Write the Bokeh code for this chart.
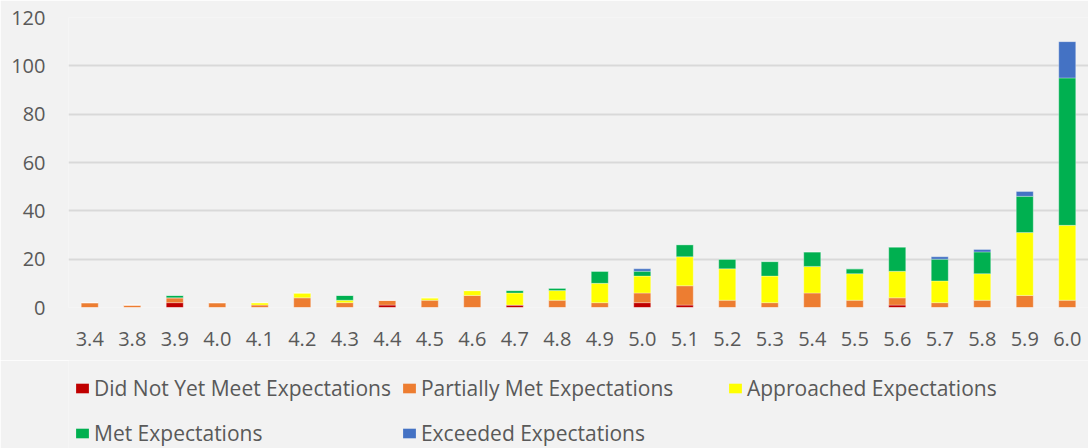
from bokeh.plotting import figure
from bokeh.layouts import column
from bokeh.models import (ColumnDataSource, FactorRange, Range1d, FixedTicker,
                          Legend, LegendItem)
from bokeh.embed import file_html
from bokeh.resources import INLINE

# ---- data ----
scores = ["3.4", "3.8", "3.9", "4.0", "4.1", "4.2", "4.3", "4.4", "4.5", "4.6",
          "4.7", "4.8", "4.9", "5.0", "5.1", "5.2", "5.3", "5.4", "5.5", "5.6",
          "5.7", "5.8", "5.9", "6.0"]
did_not_yet = [0, 0, 2, 0, 0, 0, 0, 1, 0, 0, 1, 0, 0, 2, 1, 0, 0, 0, 0, 1, 0, 0, 0, 0]
partially   = [2, 1, 2, 2, 1, 4, 2, 2, 3, 5, 0, 3, 2, 4, 8, 3, 2, 6, 3, 3, 2, 3, 5, 3]
approached  = [0, 0, 0, 0, 1, 2, 1, 0, 1, 2, 5, 4, 8, 7, 12, 13, 11, 11, 11, 11, 9, 11, 26, 31]
met         = [0, 0, 1, 0, 0, 0, 2, 0, 0, 0, 1, 1, 5, 2, 5, 4, 6, 6, 2, 10, 9, 9, 15, 61]
exceeded    = [0, 0, 0, 0, 0, 0, 0, 0, 0, 0, 0, 0, 0, 1, 0, 0, 0, 0, 0, 0, 1, 1, 2, 15]

series_names = ["Did Not Yet Meet Expectations", "Partially Met Expectations",
                "Approached Expectations", "Met Expectations", "Exceeded Expectations"]
series_keys = ["did_not_yet", "partially", "approached", "met", "exceeded"]
colors = ["#C00000", "#ED7D31", "#FFFF00", "#00B050", "#4472C4"]
y_ticks = [0, 20, 40, 60, 80, 100, 120]

source = ColumnDataSource(dict(scores=scores, did_not_yet=did_not_yet, partially=partially,
                               approached=approached, met=met, exceeded=exceeded))

BG = "#F2F2F2"
TXT = "#595959"
FONT = "Open Sans"

# ---- chart ----
p = figure(width=1088, height=360, output_backend="svg", toolbar_location=None,
           x_range=FactorRange(factors=scores, range_padding=0),
           y_range=Range1d(0, 120),
           min_border_left=68, min_border_right=0, min_border_top=17, min_border_bottom=53)

p.background_fill_color = BG
p.border_fill_color = BG
p.outline_line_color = None

p.vbar_stack(series_keys, x="scores", width=0.4, color=colors, source=source,
             line_color="white", line_alpha=0.5, line_width=0.6)

p.xgrid.grid_line_color = None
p.ygrid.grid_line_color = "#D9D9D9"
p.ygrid.grid_line_width = 2
p.yaxis.ticker = FixedTicker(ticks=y_ticks)
for ax in (p.xaxis[0], p.yaxis[0]):
    ax.axis_line_color = None
    ax.major_tick_line_color = None
    ax.minor_tick_line_color = None
    ax.major_tick_out = 0
    ax.major_tick_in = 0
    ax.major_label_text_font = FONT
    ax.major_label_text_font_size = "20px"
    ax.major_label_text_color = TXT
p.yaxis.major_label_standoff = 23
p.xaxis.major_label_standoff = 24

# ---- legend strip (frame is aligned with the chart frame by the column layout) ----
lg = figure(width=1088, height=88, output_backend="svg", toolbar_location=None,
            x_axis_type=None, y_axis_type=None,
            x_range=Range1d(0, 1), y_range=Range1d(0, 1),
            min_border_left=0, min_border_right=0, min_border_top=0, min_border_bottom=0)
lg.background_fill_color = BG
lg.border_fill_color = BG
lg.outline_line_color = None
lg.grid.grid_line_color = None

items = []
for name, c in zip(series_names, colors):
    # zero-height swatch renderer, only used for the legend key
    r = lg.vbar(x=[0.5], bottom=[0], top=[0], width=0.01, fill_color=c, line_color=None)
    items.append(LegendItem(label=name, renderers=[r]))

legend = Legend(items=items, orientation="horizontal", ncols=3,
                location=(6, -2.5), margin=0, padding=0, spacing=10,
                glyph_width=16, glyph_height=12, label_standoff=4,
                label_width=296, label_height=35,
                label_text_font=FONT, label_text_font_size="21px",
                label_text_color=TXT,
                background_fill_alpha=0, border_line_color=None)
lg.add_layout(legend, "center")

layout = column(p, lg, spacing=0)
open("out.html", "w").write(file_html(layout, INLINE))
